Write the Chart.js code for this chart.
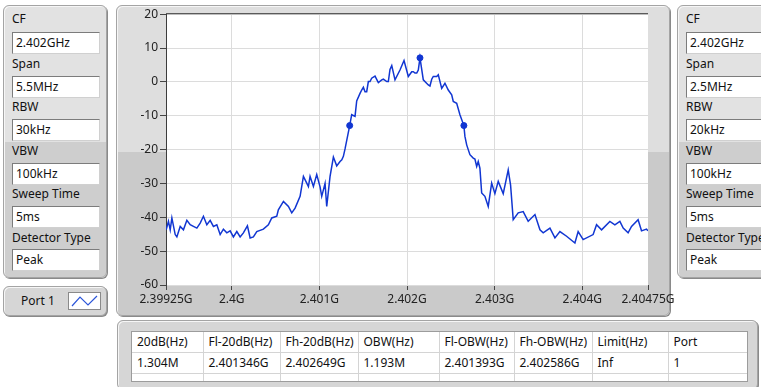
<!DOCTYPE html>
<html><head><meta charset="utf-8">
<script src="https://cdn.jsdelivr.net/npm/chart.js@4.4.1/dist/chart.umd.min.js"></script>
<style>
html,body{margin:0;padding:0}
body{width:761px;height:387px;overflow:hidden;background:#fff;font-family:"Noto Sans",sans-serif;font-size:12px;color:#111;position:relative}
.panel{position:absolute;box-sizing:border-box;border:1px solid #a4a4a4;border-radius:6px;box-shadow:inset 1px 1px 0 #f6f6f6,1px 1px 0 #8a8a8a;}
.side{background:linear-gradient(to bottom,#e2e2e2 0,#e2e2e2 136px,#cecece 136px,#cecece 100%)}
.lbl{position:absolute;left:8px;height:16px;line-height:16px;white-space:nowrap}
.box{position:absolute;left:8px;width:88px;height:22px;box-sizing:border-box;background:#fff;border:1px solid #7c7c7c;border-right-color:#d0d0d0;border-bottom-color:#d0d0d0;padding-left:3px;line-height:20px;white-space:nowrap}
#chartPanel{left:116px;top:5px;width:554px;height:311px;background:linear-gradient(to bottom,#dedede 0,#dedede 146px,#cacaca 146px,#cacaca 100%)}
#cv{position:absolute;left:116px;top:5px}
#tablePanel{left:117px;top:320px;width:641px;height:70px;background:#d6d6d6}
#tbl{position:absolute;left:131px;top:331px;width:617px;height:51px;background:#fff;border:1px solid #9c9c9c;box-sizing:border-box;overflow:hidden}
#tbl table{border-collapse:collapse;table-layout:fixed;width:617px}
#tbl td{height:20px;padding:0 0 0 5px;border-right:1px solid #d4d4d4;border-bottom:1px solid #d4d4d4;white-space:nowrap;overflow:hidden;line-height:20px}
</style>
</head><body>
<div class="panel side" style="left:3px;top:5px;width:104px;height:273px" id="leftPanel"></div>
<div class="panel side" style="left:677px;top:5px;width:110px;height:273px" id="rightPanel"></div>
<div class="panel" style="left:3px;top:286px;width:104px;height:30px;background:#d6d6d6">
  <div style="position:absolute;left:17px;top:6px;line-height:16px">Port 1</div>
  <svg style="position:absolute;left:64px;top:5px" width="33" height="18">
    <rect x="0.5" y="0.5" width="32" height="17" fill="#fff" stroke="#8a8a8a"/>
    <polyline points="4,14 12,5 20,13 29,4" fill="none" stroke="#2b55d8" stroke-width="1.2"/>
  </svg>
</div>
<div class="panel" id="chartPanel"></div>
<canvas id="cv" width="574" height="311"></canvas>
<div class="panel" id="tablePanel"></div>
<div id="tbl"></div>
<script>
// ---- settings panels ----
const settingLabels = ['CF','Span','RBW','VBW','Sweep Time','Detector Type'];
const leftSettings = ['2.402GHz','5.5MHz','30kHz','100kHz','5ms','Peak'];
const rightSettings = ['2.402GHz','2.5MHz','20kHz','100kHz','5ms','Peak'];
// ---- result table ----
const tableHeaders = ['20dB(Hz)','Fl-20dB(Hz)','Fh-20dB(Hz)','OBW(Hz)','Fl-OBW(Hz)','Fh-OBW(Hz)','Limit(Hz)','Port'];
const tableValues = ['1.304M','2.401346G','2.402649G','1.193M','2.401393G','2.402586G','Inf','1'];
// ---- chart data (frequency in MHz, level in dB) ----
const freqMHz = [
2399.252,2399.278,2399.298,2399.317,2399.355,2399.374,2399.412,2399.449,2399.488,2399.526,
2399.563,2399.602,2399.640,2399.677,2399.716,2399.754,2399.791,2399.830,2399.868,2399.905,
2399.944,2399.982,2400.019,2400.058,2400.096,2400.133,2400.179,2400.210,2400.247,2400.286,
2400.361,2400.418,2400.457,2400.514,2400.532,2400.590,2400.647,2400.685,2400.723,2400.780,
2400.818,2400.856,2400.875,2400.894,2400.932,2400.970,2401.008,2401.027,2401.046,2401.065,
2401.084,2401.122,2401.160,2401.198,2401.236,2401.256,2401.274,2401.293,2401.346,2401.369,
2401.407,2401.426,2401.464,2401.483,2401.502,2401.521,2401.540,2401.559,2401.578,2401.597,
2401.635,2401.673,2401.712,2401.730,2401.769,2401.787,2401.806,2401.826,2401.863,2401.920,
2401.966,2402.015,2402.054,2402.072,2402.091,2402.111,2402.129,2402.148,2402.186,2402.243,
2402.262,2402.282,2402.300,2402.339,2402.357,2402.396,2402.433,2402.471,2402.510,2402.528,
2402.567,2402.604,2402.649,2402.661,2402.681,2402.718,2402.756,2402.775,2402.795,2402.813,
2402.832,2402.852,2402.889,2402.927,2402.966,2403.003,2403.041,2403.098,2403.155,2403.182,
2403.212,2403.269,2403.326,2403.383,2403.460,2403.517,2403.554,2403.631,2403.688,2403.745,
2403.821,2403.916,2403.953,2404.010,2404.124,2404.163,2404.220,2404.315,2404.372,2404.429,
2404.467,2404.523,2404.562,2404.637,2404.676,2404.733,2404.748];
const levelDb = [
-43.7,-41.2,-43.7,-40.2,-45.1,-45.8,-42.7,-43.7,-40.9,-42.2,
-42.7,-43.2,-41.7,-39.7,-42.2,-40.9,-42.7,-42.2,-45.1,-43.5,
-44.6,-44.0,-45.8,-44.2,-45.8,-44.6,-42.5,-46.1,-45.8,-44.2,
-43.5,-42.2,-40.2,-39.7,-37.8,-35.3,-36.8,-38.7,-37.3,-33.8,
-27.9,-29.9,-30.9,-27.9,-30.9,-27.4,-31.0,-33.8,-31.9,-30.0,
-36.8,-27.9,-22.2,-24.8,-23.5,-23.0,-22.0,-19.8,-12.9,-9.7,
-10.2,-5.6,-3.4,-2.4,-1.6,-2.9,-2.9,0.1,0.1,1.1,
1.7,-0.2,0.6,0.8,0.1,0.1,3.7,4.8,0.6,3.5,
6.3,1.6,3.0,3.0,2.6,2.6,3.5,7.1,0.6,-0.9,
-1.2,0.8,1.6,1.6,2.1,-1.9,-0.4,-2.4,-3.8,-5.8,
-6.3,-9.7,-12.9,-16.1,-18.6,-21.5,-22.5,-22.8,-25.0,-23.5,
-25.5,-32.8,-33.8,-36.8,-29.9,-33.0,-29.4,-33.0,-26.0,-30.5,
-40.7,-38.7,-38.3,-41.2,-39.2,-43.7,-44.6,-43.2,-46.1,-44.2,
-45.6,-47.6,-44.2,-46.6,-45.1,-42.2,-43.7,-41.2,-42.2,-41.2,
-43.2,-44.6,-42.7,-40.7,-44.0,-43.5,-44.0];
const markerMHz = [2401.346, 2402.148, 2402.649];
const markerDb = [-12.9, 7.1, -12.9];
const xTickMHz = [2399.25, 2400, 2401, 2402, 2403, 2404, 2404.75];
const xTickLabels = ['2.39925G','2.4G','2.401G','2.402G','2.403G','2.404G','2.40475G'];
const yTicks = [-60,-50,-40,-30,-20,-10,0,10,20];

// build settings panels
const lblTops=[5,50,93,137,180,224], boxTops=[26,70,113,157,200,243];
function fill(panel, values){
  settingLabels.forEach((t,i)=>{
    const l=document.createElement('div');l.className='lbl';l.style.top=lblTops[i]+'px';l.textContent=t;panel.appendChild(l);
    const b=document.createElement('div');b.className='box';b.style.top=boxTops[i]+'px';b.textContent=values[i];panel.appendChild(b);
  });
}
fill(document.getElementById('leftPanel'), leftSettings);
fill(document.getElementById('rightPanel'), rightSettings);
// build table
const colW=[71,77,78,81,75,78,76,81];
let h='<table><colgroup>'+colW.map(w=>'<col style="width:'+w+'px">').join('')+'</colgroup>';
h+='<tr>'+tableHeaders.map(t=>'<td>'+t+'</td>').join('')+'</tr>';
h+='<tr>'+tableValues.map(t=>'<td>'+t+'</td>').join('')+'</tr>';
h+='<tr>'+tableValues.map(()=>'<td></td>').join('')+'</tr></table>';
document.getElementById('tbl').innerHTML=h;

const plotFrame={id:'plotFrame',
  beforeDraw(c){const a=c.chartArea,g=c.ctx;g.save();g.fillStyle='#fff';g.fillRect(a.left,a.top,a.right-a.left,a.bottom-a.top);g.restore();},
  afterDatasetsDraw(c){const a=c.chartArea,g=c.ctx;g.save();g.strokeStyle='#3c3c3c';g.lineWidth=1;g.beginPath();g.moveTo(a.left,a.top-0.5);g.lineTo(a.right,a.top-0.5);g.stroke();g.restore();}
};
const font={family:'Noto Sans',size:12};
new Chart(document.getElementById('cv'),{
  type:'scatter',
  data:{datasets:[
    {data:freqMHz.map((f,i)=>({x:f,y:levelDb[i]})),showLine:true,borderColor:'#1136d2',borderWidth:1.5,pointRadius:0,tension:0,order:2},
    {data:markerMHz.map((f,i)=>({x:f,y:markerDb[i]})),showLine:false,pointRadius:3,pointBackgroundColor:'#1136d2',pointBorderColor:'#1136d2',order:1}
  ]},
  options:{
    responsive:false,animation:false,devicePixelRatio:1,
    layout:{padding:{top:9,right:42,left:0,bottom:0}},
    plugins:{legend:{display:false},tooltip:{enabled:false}},
    scales:{
      x:{type:'linear',min:xTickMHz[0],max:xTickMHz[xTickMHz.length-1],
        afterBuildTicks:s=>{s.ticks=xTickMHz.map(v=>({value:v}));},
        afterFit:s=>{s.height=31;},
        ticks:{callback:v=>xTickLabels[xTickMHz.indexOf(v)],color:'#222',font,padding:2,maxRotation:0,autoSkip:false},
        grid:{color:c=>(c.index===0||c.index===xTickMHz.length-1)?'rgba(0,0,0,0)':'#dcdcdc',tickColor:'#444',tickLength:5},
        border:{display:false}},
      y:{min:-60,max:20,
        afterBuildTicks:s=>{s.ticks=yTicks.map(v=>({value:v}));},
        afterFit:s=>{s.width=50;},
        ticks:{callback:v=>String(v),color:'#222',font,padding:2},
        grid:{color:'#dcdcdc',tickColor:'#444',tickLength:6},
        border:{color:'#3c3c3c',width:1}}
    }
  },
  plugins:[plotFrame]
});
</script>
</body></html>
